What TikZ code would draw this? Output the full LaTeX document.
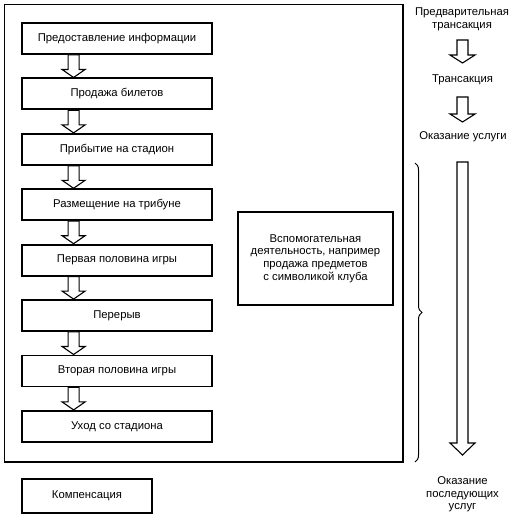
\documentclass[tikz,border=0pt]{standalone}
\usepackage{fontspec}
\setmainfont{Liberation Sans}
\usetikzlibrary{calc,decorations.pathreplacing}
\newcommand\diagfont{\fontsize{11.3}{12.6}\selectfont}
% hollow arrow: from, to, shaft half width, head half width, head length
\newcommand\hollowarrow[5]{%
  \draw[harrow] let \p1=(#1), \p2=(#2) in
    (\x1-#3,\y1) -- (\x1-#3,\y2+#5) -- (\x1-#4,\y2+#5) -- (\x2,\y2)
    -- (\x1+#4,\y2+#5) -- (\x1+#3,\y2+#5) -- (\x1+#3,\y1) -- cycle;}
\begin{document}
\begin{tikzpicture}[x=1pt,y=-1pt,
  stage/.style={draw, line width=1.8pt, minimum width=190pt, minimum height=31pt,
    inner sep=0pt, font=\diagfont},
  frame/.style={draw, line width=1.8pt},
  harrow/.style={draw, line width=1.1pt, fill=white, line join=miter},
  label/.style={align=center, font=\diagfont, inner sep=0pt}]
\useasboundingbox (0,0) rectangle (514,516);
% outer frame
\draw[frame] (4.5,4.5) rectangle (403,462);
% stages
\node[stage] (b1) at (117,38.5) {Предоставление информации};
\node[stage] (b2) at (117,93.9) {Продажа билетов};
\node[stage] (b3) at (117,149.3) {Прибытие на стадион};
\node[stage] (b4) at (117,204.7) {Размещение на трибуне};
\node[stage] (b5) at (117,260.1) {Первая половина игры};
\node[stage] (b6) at (117,315.5) {Перерыв};
\node[stage] (b7) at (117,370.9) {Вторая половина игры};
\node[stage] (b8) at (117,426.3) {Уход со стадиона};
\node[stage, minimum width=130pt, minimum height=34pt] (comp) at (87,496) {Компенсация};
\node[stage, minimum width=155pt, minimum height=93pt, align=center] (aux) at (315.5,258.5)
  {Вспомогательная\\деятельность, например\\продажа предметов\\с символикой клуба};
% arrows between stages
\foreach \a/\b in {b1/b2,b2/b3,b3/b4,b4/b5,b5/b6,b6/b7,b7/b8}{
  \hollowarrow{$(\a.south west)+(52.5,0)$}{$(\b.north west)+(52.5,0)$}{5.5pt}{11.5pt}{8pt}
}
% right column
\node[label] (t1) at (462,19) {Предварительная\\трансакция};
\node[label] (t2) at (462.5,80) {Трансакция};
\node[label] (t3) at (463,137) {Оказание услуги};
\node[label] (t4) at (462.5,494.5) {Оказание\\последующих\\услуг};
\coordinate (a1s) at (462.5,40);
\coordinate (a1e) at (462.5,63);
\coordinate (a2s) at (462.5,97);
\coordinate (a2e) at (462.5,122);
\coordinate (a3s) at (462.5,162);
\coordinate (a3e) at (462.5,455);
\hollowarrow{a1s}{a1e}{5.5pt}{12.5pt}{8pt}
\hollowarrow{a2s}{a2e}{5.5pt}{12.5pt}{8pt}
\hollowarrow{a3s}{a3e}{5.5pt}{12.5pt}{12pt}
% brace
\coordinate (brt) at (415,163);
\coordinate (brb) at (415,462);
\draw[decorate, decoration={brace, amplitude=7pt}, line width=1pt] (brt) -- (brb);
\end{tikzpicture}
\end{document}
